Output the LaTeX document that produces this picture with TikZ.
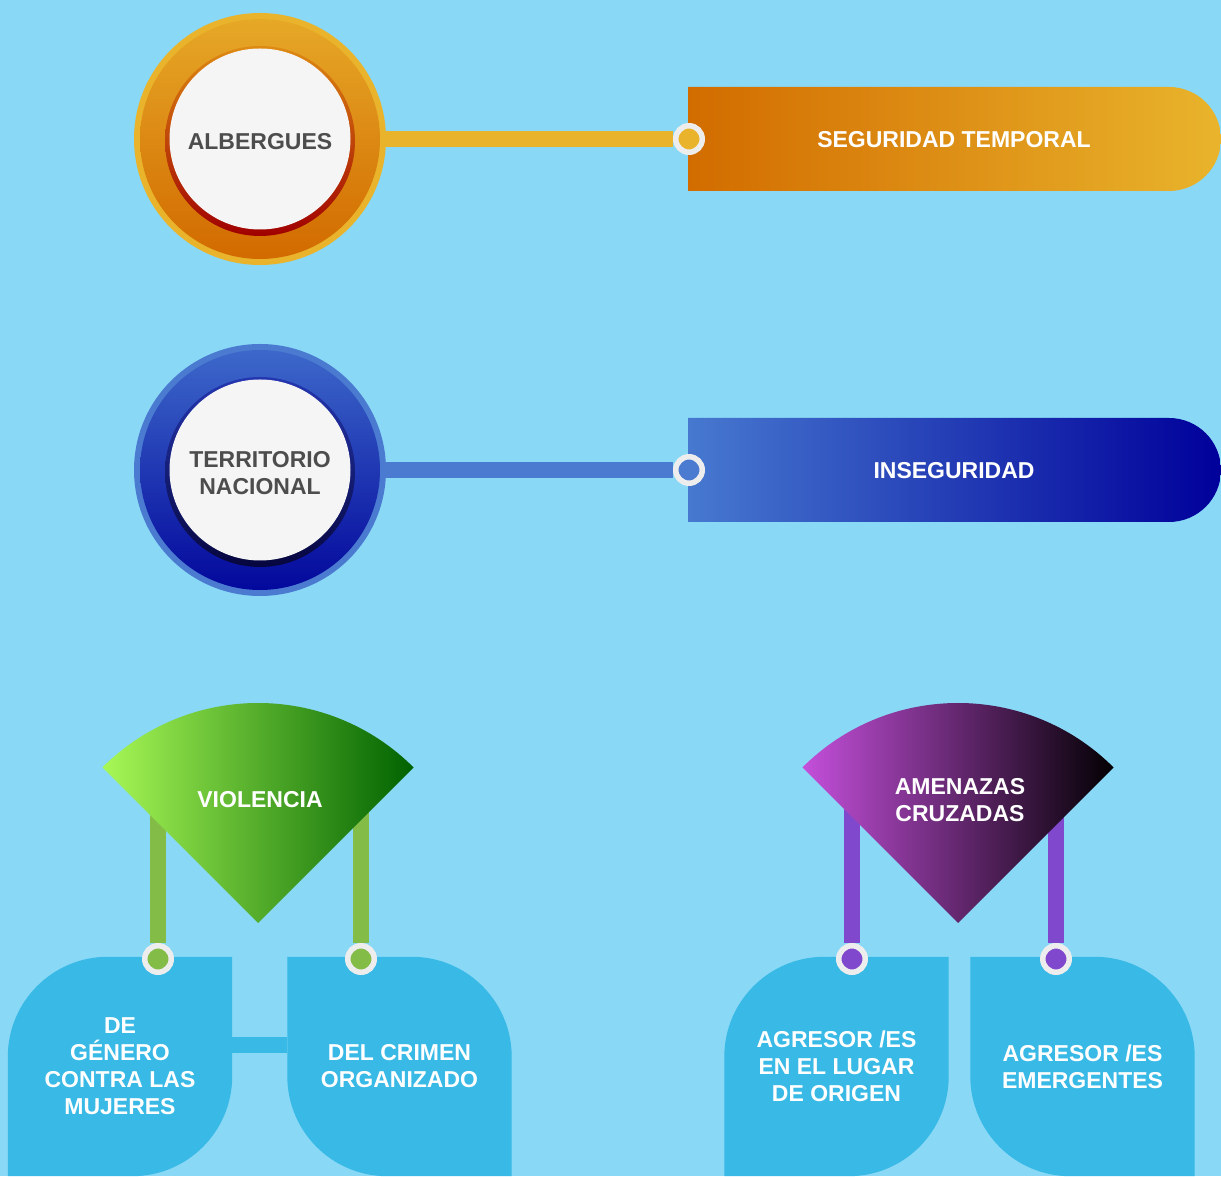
\documentclass[tikz,border=0pt]{standalone}
\usepackage{fontspec}
\setmainfont{Liberation Sans}

\definecolor{skyback}{HTML}{88D8F6}
\definecolor{boxblue}{HTML}{38B9E6}
\definecolor{hubwhite}{HTML}{F5F5F5}
\definecolor{hubtext}{HTML}{4D4D4D}
\definecolor{pinring}{HTML}{EDEDED}
% orange row
\definecolor{orgBorder}{HTML}{E9B42C}
\definecolor{orgTop}{HTML}{E6A827}
\definecolor{orgBot}{HTML}{D26A00}
\definecolor{orgRimA}{HTML}{DE8A12}
\definecolor{orgRimB}{HTML}{A00000}
\definecolor{orgBanA}{HTML}{D26C00}
\definecolor{orgBanB}{HTML}{E9B42C}
\definecolor{orgLine}{HTML}{E9B42C}
% blue row
\definecolor{bluBorder}{HTML}{4A7BD1}
\definecolor{bluTop}{HTML}{3D68CA}
\definecolor{bluBot}{HTML}{03089C}
\definecolor{bluRimA}{HTML}{2436B0}
\definecolor{bluRimB}{HTML}{06063E}
\definecolor{bluBanA}{HTML}{4779D0}
\definecolor{bluBanB}{HTML}{00009A}
\definecolor{bluLine}{HTML}{4A7BD1}
% fans
\definecolor{grnA}{HTML}{A8F856}
\definecolor{grnB}{HTML}{006200}
\definecolor{grnLine}{HTML}{84BC48}
\definecolor{purA}{HTML}{C44FDB}
\definecolor{purB}{HTML}{030003}
\definecolor{purLine}{HTML}{8048CC}

\pgfdeclarelayer{backdrop}
\pgfdeclarelayer{links}
\pgfsetlayers{backdrop,links,main}

\tikzset{
  txt/.style={font=\fontsize{23}{27}\selectfont\bfseries, align=center, text=white},
  hub/.style={circle, fill=hubwhite, minimum size=181, inner sep=0},
  hubtxt/.style={txt, text=hubtext},
  pin/.style={circle, draw=pinring, line width=5.5, minimum size=26.5, inner sep=0},
  link/.style={line width=16},
  leaf/.style={rectangle, minimum width=224, minimum height=219, inner sep=0, txt},
}

\begin{document}
\begin{tikzpicture}[x=1pt, y=1pt]
    % Define sizes
    \def\hubx{260}
    \def\pinx{689}
    \def\fanr{220}
    \def\leafr{100}

    \useasboundingbox (0,0) rectangle (1221,1176);
    \begin{pgfonlayer}{backdrop}
        \fill[skyback] (0,0) rectangle (1221,1176);
    \end{pgfonlayer}

    % Draw hubs, banners and pins
    \foreach \name/\y/\hubtxt/\bantxt/\col in {%
      alb/1037/ALBERGUES/SEGURIDAD TEMPORAL/org,%
      ter/706/TERRITORIO\\NACIONAL/INSEGURIDAD/blu%
    } {
        \fill[fill=\col Border] (\hubx,\y) circle[radius=126];
        \shade[top color=\col Top, bottom color=\col Bot] (\hubx,\y) circle[radius=120];
        \shade[top color=\col RimA, bottom color=\col RimB] (\hubx,\y-2) circle[radius=95];
        \node[hub] (\name) at (\hubx,\y) {};
        \node[hubtxt] (\name-txt) at (\hubx,\y-3) {\hubtxt};

        % banner with round right end
        \shade[left color=\col BanA, right color=\col BanB] (688,\y-52) -- (688,\y+52)
            -- (1169,\y+52) arc[start angle=90, end angle=-90, radius=52] -- cycle;
        \node[txt] (\name-ban) at (954,\y-1) {\bantxt};
        \node[pin, fill=\col Line] (\name-pin) at (\pinx,\y) {};

        \begin{pgfonlayer}{links}
            \draw[link, draw=\col Line] (\name) -- (\name-pin);
        \end{pgfonlayer}
    }

    % Draw fans
    \foreach \name/\x/\fantxt/\col in {vio/258/VIOLENCIA/grn, ame/958/AMENAZAS\\CRUZADAS/pur} {
        \shade[left color=\col A, right color=\col B] (\x,253) -- ++(135:\fanr)
            arc[start angle=135, end angle=45, radius=\fanr] -- cycle;
        \node[txt] (\name) at (\x+2,376) {\fantxt};
    }

    % Draw leaves
    \node[leaf] (gen) at (120,109.5) {DE\\GÉNERO\\CONTRA LAS\\MUJERES};
    \node[leaf] (crim) at (399.5,109.5) {DEL CRIMEN\\ORGANIZADO};
    \node[leaf] (orig) at (836.5,109.5) {AGRESOR /ES\\EN EL LUGAR\\DE ORIGEN};
    \node[leaf] (emer) at (1082.5,109.5) {AGRESOR /ES\\EMERGENTES};

    \node[pin, fill=grnLine] (gen-pin) at (158,217) {};
    \node[pin, fill=grnLine] (crim-pin) at (361,217) {};
    \node[pin, fill=purLine] (orig-pin) at (852,217) {};
    \node[pin, fill=purLine] (emer-pin) at (1056,217) {};

    \begin{pgfonlayer}{links}
        \foreach \n in {gen, orig} {
            \fill[boxblue] (\n.south west) -- ([yshift=-\leafr]\n.north west)
                arc[start angle=180, end angle=90, radius=\leafr] -- (\n.north east)
                -- ([yshift=\leafr]\n.south east)
                arc[start angle=0, end angle=-90, radius=\leafr] -- cycle;
        }
        \foreach \n in {crim, emer} {
            \fill[boxblue] (\n.south east) -- ([yshift=-\leafr]\n.north east)
                arc[start angle=0, end angle=90, radius=\leafr] -- (\n.north west)
                -- ([yshift=\leafr]\n.south west)
                arc[start angle=180, end angle=270, radius=\leafr] -- cycle;
        }
        \draw[link, boxblue] ([yshift=21.5]gen.east) -- ([yshift=21.5]crim.west);

        % fan links
        \draw[link, grnLine] (gen-pin |- vio) -- (gen-pin);
        \draw[link, grnLine] (crim-pin |- vio) -- (crim-pin);
        \draw[link, purLine] (orig-pin |- ame) -- (orig-pin);
        \draw[link, purLine] (emer-pin |- ame) -- (emer-pin);
    \end{pgfonlayer}

\end{tikzpicture}
\end{document}
